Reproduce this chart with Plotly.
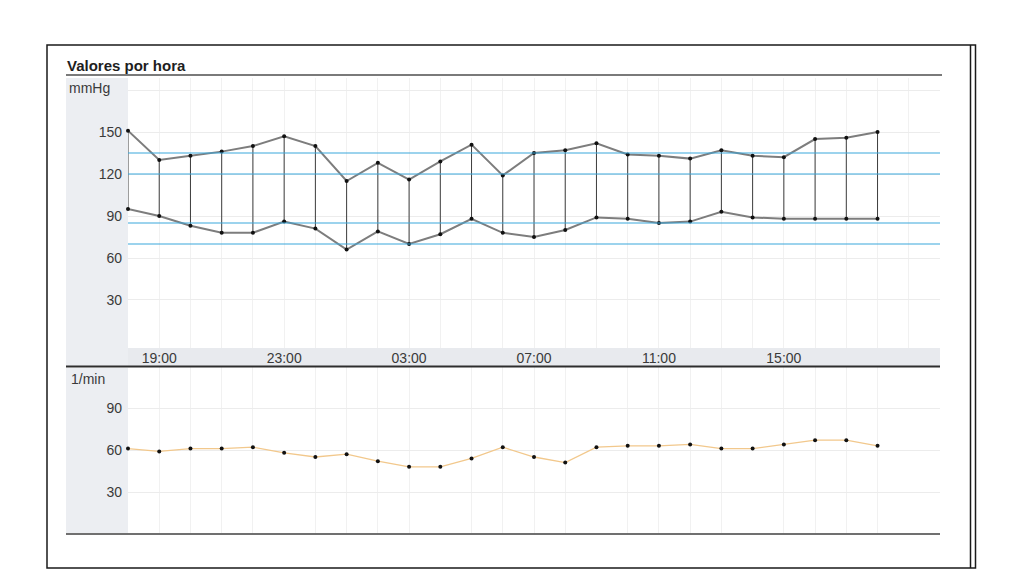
import plotly.graph_objects as go

# ---------------- data ----------------
times = ["18:00", "19:00", "20:00", "21:00", "22:00", "23:00", "00:00", "01:00",
         "02:00", "03:00", "04:00", "05:00", "06:00", "07:00", "08:00", "09:00",
         "10:00", "11:00", "12:00", "13:00", "14:00", "15:00", "16:00", "17:00", "18:00"]
systolic = [151, 130, 133, 136, 140, 147, 140, 115, 128, 116, 129, 141, 119,
            135, 137, 142, 134, 133, 131, 137, 133, 132, 145, 146, 150]
diastolic = [95, 90, 83, 78, 78, 86, 81, 66, 79, 70, 77, 88, 78,
             75, 80, 89, 88, 85, 86, 93, 89, 88, 88, 88, 88]
heart_rate = [61, 59, 61, 61, 62, 58, 55, 57, 52, 48, 48, 54, 62,
              55, 51, 62, 63, 63, 64, 61, 61, 64, 67, 67, 63]
thresholds = [135, 120, 85, 70]
x_tick_labels = ["19:00", "23:00", "03:00", "07:00", "11:00", "15:00"]
bp_ticks = [30, 60, 90, 120, 150, 180]
bp_tick_text = ["30", "60", "90", "120", "150", ""]
hr_ticks = [30, 60, 90]

title_text = "Valores por hora"
bp_unit = "mmHg"
hr_unit = "1/min"

# ---------------- geometry helpers (screen pixels -> paper) ----------------
OFF = 8  # page body margin
W, H = 1024 - OFF, 576 - OFF
def px(x):
    return (x - OFF) / W
def py(y):
    return 1 - (y - OFF) / H

xs = list(range(len(times)))
tick_vals = [xs[times.index(t)] for t in x_tick_labels]

FONT = "Liberation Sans, Arial, sans-serif"
TXT = "#3a3a3a"

fig = go.Figure()

# connectors systolic-diastolic
cx, cy = [], []
for x, s, d in zip(xs, systolic, diastolic):
    cx += [x, x, None]
    cy += [s, d, None]
fig.add_trace(go.Scatter(x=cx, y=cy, mode="lines", line=dict(color="#3c3c3c", width=1),
                         hoverinfo="skip", showlegend=False, xaxis="x", yaxis="y"))
fig.add_trace(go.Scatter(x=xs, y=systolic, mode="lines+markers", name="Sistólica",
                         line=dict(color="#7d7d7d", width=2),
                         marker=dict(color="#111", size=4), cliponaxis=False,
                         showlegend=False, xaxis="x", yaxis="y"))
fig.add_trace(go.Scatter(x=xs, y=diastolic, mode="lines+markers", name="Diastólica",
                         line=dict(color="#7d7d7d", width=2),
                         marker=dict(color="#111", size=4), cliponaxis=False,
                         showlegend=False, xaxis="x", yaxis="y"))
fig.add_trace(go.Scatter(x=xs, y=heart_rate, mode="lines+markers", name="Pulso",
                         line=dict(color="#f2c88c", width=1.3),
                         marker=dict(color="#111", size=4), cliponaxis=False,
                         showlegend=False, xaxis="x2", yaxis="y2"))

shapes = []
# threshold lines
for t in thresholds:
    shapes.append(dict(type="line", xref="x domain", yref="y", x0=0, x1=1, y0=t, y1=t,
                       line=dict(color="#3aa8dc", width=1.2), layer="above"))
# decorations
def rect(x0, y0, x1, y1, fill):
    shapes.append(dict(type="rect", xref="paper", yref="paper", x0=px(x0), x1=px(x1),
                       y0=py(y1), y1=py(y0), fillcolor=fill, line=dict(width=0), layer="below"))
def hline(x0, x1, y, color, w):
    shapes.append(dict(type="line", xref="paper", yref="paper", x0=px(x0), x1=px(x1),
                       y0=py(y), y1=py(y), line=dict(color=color, width=w)))
def vline(x, y0, y1, color, w):
    shapes.append(dict(type="line", xref="paper", yref="paper", x0=px(x), x1=px(x),
                       y0=py(y0), y1=py(y1), line=dict(color=color, width=w)))

rect(66, 78, 128, 366, "#eceef2")
rect(128, 348, 940, 366, "#e8eaee")
rect(66, 368, 128, 533, "#eceef2")
hline(66, 942, 75, "#7a7a7a", 2)
hline(66, 940, 366.5, "#2e2e2e", 2)
hline(66, 940, 534, "#707070", 2)
# outer frame
shapes.append(dict(type="rect", xref="paper", yref="paper", x0=px(47), x1=px(975.5),
                   y0=py(568), y1=py(45), line=dict(color="#1a1a1a", width=1.5)))
vline(970.5, 45, 568, "#1a1a1a", 1.5)

annotations = [
    dict(text="<b>" + title_text + "</b>", x=px(65), y=py(66), xref="paper", yref="paper",
         xanchor="left", yanchor="middle", showarrow=False,
         font=dict(family=FONT, size=15, color="#1e1e1e")),
    dict(text=bp_unit, x=px(67), y=py(88), xref="paper", yref="paper",
         xanchor="left", yanchor="middle", showarrow=False,
         font=dict(family=FONT, size=14, color=TXT)),
    dict(text=hr_unit, x=px(69), y=py(379), xref="paper", yref="paper",
         xanchor="left", yanchor="middle", showarrow=False,
         font=dict(family=FONT, size=14, color=TXT)),
]

grid_col = "#ececec"
xaxis_common = dict(range=[0, 26], showline=False, zeroline=False, showgrid=False,
                    minor=dict(dtick=1, tick0=0, showgrid=True, gridcolor="#f1f1f1", gridwidth=1),
                    tickmode="array", tickvals=tick_vals, ticktext=x_tick_labels,
                    tickfont=dict(family=FONT, size=14, color=TXT), ticks="", fixedrange=True)

fig.update_layout(
    width=W, height=H, margin=dict(l=0, r=0, t=0, b=0),
    paper_bgcolor="white", plot_bgcolor="rgba(0,0,0,0)",
    showlegend=False,
    xaxis=dict(domain=[px(128), px(940)], anchor="y", **xaxis_common),
    yaxis=dict(domain=[py(348), py(78)], range=[-4.3, 188.6], anchor="x",
               tickmode="array", tickvals=bp_ticks, ticktext=bp_tick_text,
               showgrid=True, gridcolor=grid_col, zeroline=False, showline=False,
               ticks="", ticklabelstandoff=5,
               tickfont=dict(family=FONT, size=14, color=TXT)),
    xaxis2=dict(domain=[px(128), px(940)], anchor="y2", showticklabels=False,
                **{k: v for k, v in xaxis_common.items() if k not in ("tickvals", "ticktext", "tickmode")}),
    yaxis2=dict(domain=[py(534), py(367)], range=[0, 119.3], anchor="x2",
                tickmode="array", tickvals=hr_ticks,
                showgrid=True, gridcolor=grid_col, zeroline=False, showline=False,
                ticks="", ticklabelstandoff=5,
                tickfont=dict(family=FONT, size=14, color=TXT)),
    shapes=shapes,
    annotations=annotations,
)

fig.write_html("out.html")
